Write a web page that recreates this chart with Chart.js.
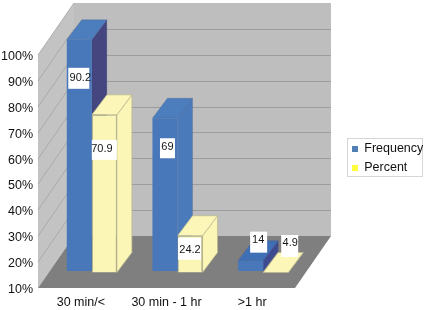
<!DOCTYPE html>
<html>
<head>
<meta charset="utf-8">
<style>html,body{margin:0;padding:0;background:#fff}canvas{display:block}</style>
<script src="https://cdn.jsdelivr.net/npm/chart.js@4"></script>
</head>
<body>
<canvas id="c" width="425" height="310"></canvas>
<script>
const categories = ['30 min/<', '30 min - 1 hr', '>1 hr'];
const frequencyValues = [99.3, 69, 14];
const percentValues = [70.9, 24.2, 4.9];
const frequencyLabels = ['90.2', '69', '14'];
const percentLabels = ['70.9', '24.2', '4.9'];
const seriesNames = ['Frequency', 'Percent'];

const FONT = '"Liberation Sans", Arial, sans-serif';
const WALL = {dx: 36, dy: -52};
const FACE = {dx: 15, dy: -20};
const PLANE = [{dx: 11, dy: -17}, {dx: 11, dy: -15.5}];
const FRONT = ['#4878b9', '#fbf5b6'];
const TOP = [['#4c7dbd', '#4c7dbd', '#3f6fb5'], ['#fcf6b8', '#fcf6b8', '#fcf6b8']];
const SIDE = [['#45457f', '#4a7aba', '#3d4a90'], ['#fcf6b6', '#fcf6b6', '#fcf6b6']];
const EDGE = ['rgba(60,80,130,0.35)', '#b8b68e'];
const LEGEND_SWATCH = ['#4f7fb5', '#ffff3c'];
// box centre offset from bar's top-centre, box size, text offset from box centre
const LABEL_PLACE = [
  [{x: -0.5, y: 38.5, w: 21, h: 21, tx: 1.5, ty: 0},
   {x: 2.5, y: 30, w: 15, h: 20, tx: 0, ty: -1},
   {x: 8, y: -18.5, w: 17, h: 21, tx: -0.5, ty: -2.5}],
  [{x: 0, y: 35, w: 25, h: 20, tx: -2.5, ty: -1},
   {x: -0.5, y: 13, w: 23, h: 22, tx: 0.5, ty: 1},
   {x: 14, y: -26.5, w: 17, h: 22, tx: 0.5, ty: -3}]
];
const seriesLabels = [frequencyLabels, percentLabels];

function poly(ctx, pts, fill, stroke, lw) {
  ctx.beginPath();
  pts.forEach((p, i) => i ? ctx.lineTo(p[0], p[1]) : ctx.moveTo(p[0], p[1]));
  ctx.closePath();
  if (fill) { ctx.fillStyle = fill; ctx.fill(); }
  if (stroke) { ctx.strokeStyle = stroke; ctx.lineWidth = lw || 1; ctx.stroke(); }
}

const scene3d = {
  id: 'scene3d',
  afterDatasetsUpdate(chart) {
    chart.getSortedVisibleDatasetMetas().forEach(meta => {
      meta.data.forEach(el => {
        if (el.y > el.base) { el.y = el.base; el.height = 0; }
      });
    });
  },
  afterLayout(chart) {
    const lg = chart.legend;
    lg.left = 345.5; lg.top = 136.25; lg.right = 425; lg.bottom = 182;
    lg.width = lg.right - lg.left; lg.height = lg.bottom - lg.top;
  },
  beforeDraw(chart) {
    const ctx = chart.ctx, a = chart.chartArea, d = WALL, y = chart.scales.y;
    poly(ctx, [[a.left, a.top], [a.left + d.dx, a.top + d.dy], [a.left + d.dx, a.bottom + d.dy], [a.left, a.bottom]], '#c3c3c3');
    poly(ctx, [[a.left + d.dx, a.top + d.dy], [a.right + d.dx, a.top + d.dy], [a.right + d.dx, a.bottom + d.dy], [a.left + d.dx, a.bottom + d.dy]], '#bebebe');
    poly(ctx, [[a.left, a.bottom], [a.right, a.bottom], [a.right + d.dx, a.bottom + d.dy], [a.left + d.dx, a.bottom + d.dy]], '#7f7f7f');
    y.ticks.forEach(t => {
      if (t.value === y.min) return;
      const py = Math.round(y.getPixelForValue(t.value));
      ctx.beginPath();
      ctx.moveTo(a.left, py);
      ctx.lineTo(a.left + d.dx, py + d.dy);
      ctx.strokeStyle = '#a2a2a2'; ctx.lineWidth = 0.8; ctx.stroke();
      if (t.value === y.max) return;
      ctx.beginPath();
      ctx.moveTo(a.left + d.dx, py + d.dy + 0.5);
      ctx.lineTo(a.right + d.dx, py + d.dy + 0.5);
      ctx.strokeStyle = '#9c9c9c'; ctx.lineWidth = 1; ctx.stroke();
    });
    // legend frame
    ctx.strokeStyle = '#d6d6d6'; ctx.lineWidth = 1;
    ctx.strokeRect(347.5, 138.5, 75, 38);
  },
  beforeDatasetsDraw(chart) {
    const ctx = chart.ctx;
    [0, 1].forEach(ds => {
      const off = PLANE[ds];
      chart.getDatasetMeta(ds).data.forEach((el, i) => {
        const l = el.x - el.width / 2 + off.dx, r = el.x + el.width / 2 + off.dx;
        const t = el.y + off.dy, b = el.base + off.dy;
        poly(ctx, [[r, t], [r + FACE.dx, t + FACE.dy], [r + FACE.dx, b + FACE.dy], [r, b]], SIDE[ds][i], EDGE[ds], 0.7);
        poly(ctx, [[l, t], [r, t], [r + FACE.dx, t + FACE.dy], [l + FACE.dx, t + FACE.dy]], TOP[ds][i], EDGE[ds], 0.7);
      });
    });
  },
  beforeDatasetDraw(chart, args) {
    const off = PLANE[args.index];
    chart.ctx.save();
    chart.ctx.translate(off.dx, off.dy);
  },
  afterDatasetDraw(chart) {
    chart.ctx.restore();
  },
  afterDatasetsDraw(chart) {
    const ctx = chart.ctx;
    [0, 1].forEach(ds => {
      const off = PLANE[ds];
      chart.getDatasetMeta(ds).data.forEach((el, i) => {
        const p = LABEL_PLACE[ds][i];
        const cx = el.x + off.dx + p.x, cy = el.y + off.dy + p.y;
        ctx.fillStyle = '#fff';
        ctx.fillRect(cx - p.w / 2, cy - p.h / 2, p.w, p.h);
        ctx.fillStyle = '#151515';
        ctx.font = '11px ' + FONT;
        ctx.textAlign = 'center';
        ctx.textBaseline = 'middle';
        ctx.fillText(seriesLabels[ds][i], cx + p.tx, cy + p.ty);
      });
    });
  }
};

new Chart(document.getElementById('c'), {
  type: 'bar',
  data: {
    labels: categories,
    datasets: [
      {label: seriesNames[0], data: frequencyValues, base: 10, backgroundColor: FRONT[0], borderWidth: 0, clip: false},
      {label: seriesNames[1], data: percentValues, base: 10, backgroundColor: FRONT[1], borderColor: EDGE[1], borderWidth: 1, clip: false}
    ]
  },
  options: {
    responsive: false,
    animation: false,
    events: [],
    categoryPercentage: 0.585,
    barPercentage: 1,
    layout: {padding: {left: 0, right: 130, top: 55, bottom: 0}},
    scales: {
      x: {
        grid: {display: false, drawTicks: false},
        border: {display: false},
        afterFit(s) { s.height = 22; },
        ticks: {maxRotation: 0, autoSkip: false, padding: 7.5, color: '#111', font: {family: FONT, size: 12.5}}
      },
      y: {
        min: 10, max: 100,
        grid: {display: false, drawTicks: false},
        border: {display: false},
        afterFit(s) { s.width = 38; },
        ticks: {stepSize: 10, padding: 5, labelOffset: 1.5, color: '#111', font: {family: FONT, size: 12.5}, callback: v => v + '%'}
      }
    },
    plugins: {
      title: {display: false},
      tooltip: {enabled: false},
      legend: {
        position: 'chartArea',
        align: 'start',
        labels: {
          boxWidth: 6, boxHeight: 6, padding: 6.5, color: '#111',
          font: {family: FONT, size: 12.5},
          generateLabels: () => seriesNames.map((n, i) => ({text: n, fontColor: '#111', fillStyle: LEGEND_SWATCH[i], strokeStyle: LEGEND_SWATCH[i], lineWidth: 0, datasetIndex: i, hidden: false}))
        }
      }
    }
  },
  plugins: [scene3d]
});
</script>
</body>
</html>
